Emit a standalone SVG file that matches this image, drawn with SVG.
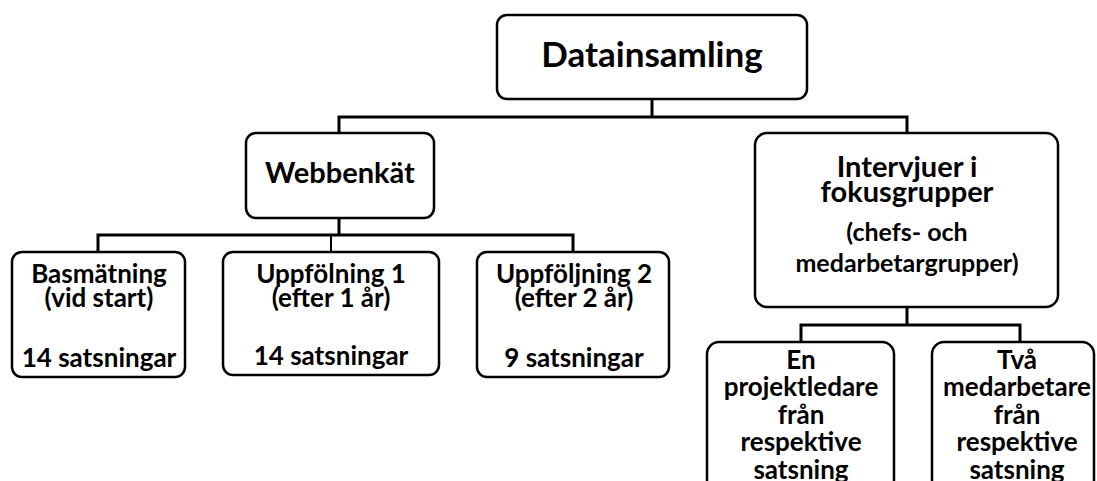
<svg xmlns="http://www.w3.org/2000/svg" width="1097" height="481" viewBox="0 0 1097 481">
<style>
.box{fill:#fff;stroke:#000;stroke-width:2.5}
.con{fill:none;stroke:#000;stroke-width:3;stroke-linejoin:miter;stroke-linecap:butt}
.thin{stroke-width:2}
text{font-family:Lato,"Open Sans","Liberation Sans",sans-serif;font-weight:700;fill:#000;text-anchor:middle}
.t36{font-size:35px}
.t31{font-size:29px}
.t27{font-size:26px}
.t26{font-size:25px}
</style>
<rect width="1097" height="481" fill="#fff"/>
<g id="connectors">
<path class="con" d="M652,99V117M339,133V117H907V133"/>
<path class="con" d="M339,218V235M98,252V235H573V252"/>
<path class="con thin" d="M331,235V252"/>
<path class="con" d="M907,307V325M801,342V325H1020V342"/>
</g>
<g id="datainsamling">
<rect class="box" x="497" y="15" width="310" height="84" rx="10"/>
<text class="t36" x="652" y="67">Datainsamling</text>
</g>
<g id="webbenkat">
<rect class="box" x="246" y="133" width="188" height="85" rx="10"/>
<text class="t31" x="340" y="183">Webbenkät</text>
</g>
<g id="intervjuer">
<rect class="box" x="755" y="133" width="303" height="174" rx="12"/>
<text class="t31" x="907" y="177">Intervjuer i</text>
<text class="t31" x="907" y="202">fokusgrupper</text>
<text class="t26" x="907" y="241">(chefs- och</text>
<text class="t26" x="907" y="272">medarbetargrupper)</text>
</g>
<g id="basmatning">
<rect class="box" x="12" y="252" width="173" height="125" rx="10"/>
<text class="t27" x="99" y="283">Basmätning</text>
<text class="t27" x="99" y="307">(vid start)</text>
<text class="t27" x="99" y="367">14 satsningar</text>
</g>
<g id="uppfolning1">
<rect class="box" x="223" y="252" width="216" height="123" rx="10"/>
<text class="t27" x="331" y="283">Uppfölning 1</text>
<text class="t27" x="331" y="307">(efter 1 år)</text>
<text class="t27" x="331" y="365">14 satsningar</text>
</g>
<g id="uppfoljning2">
<rect class="box" x="477" y="252" width="192" height="125" rx="10"/>
<text class="t27" x="574" y="283">Uppföljning 2</text>
<text class="t27" x="574" y="307">(efter 2 år)</text>
<text class="t27" x="574" y="367">9 satsningar</text>
</g>
<g id="projektledare">
<rect class="box" x="707" y="342" width="187" height="150" rx="12"/>
<text class="t27" x="801" y="369">En</text>
<text class="t27" x="801" y="396">projektledare</text>
<text class="t27" x="801" y="424">från</text>
<text class="t27" x="801" y="451">respektive</text>
<text class="t27" x="801" y="479">satsning</text>
</g>
<g id="medarbetare">
<rect class="box" x="932" y="342" width="162" height="150" rx="12"/>
<text class="t27" x="1017" y="369">Två</text>
<text class="t27" x="1017" y="396">medarbetare</text>
<text class="t27" x="1017" y="424">från</text>
<text class="t27" x="1017" y="451">respektive</text>
<text class="t27" x="1017" y="479">satsning</text>
</g>
</svg>
